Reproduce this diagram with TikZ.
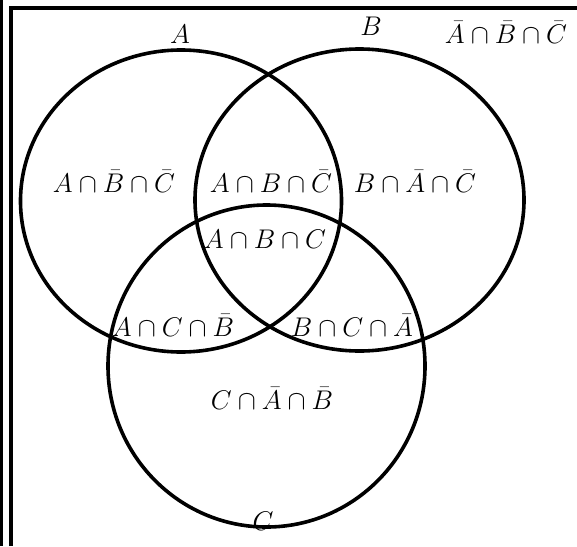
\documentclass[tikz,border=0pt]{standalone}
\usepackage{fix-cm}
\begin{document}
\begin{tikzpicture}[x=1pt,y=-1pt,
  setline/.style={draw, line width=3.6pt},
  lbl/.style={anchor=base, inner sep=0pt, font=\fontsize{27}{31}\selectfont},
  framethick/.style={line width=4pt, line join=miter},
  framethin/.style={line width=2.7pt}]
\useasboundingbox (0,0) rectangle (577,546);
% frame
\coordinate (f0) at (1.3,0);
\coordinate (f1) at (1.3,546);
\coordinate (g0) at (11,546);
\coordinate (g1) at (11,8);
\coordinate (g2) at (577,8);
\draw[framethin] (f0) -- (f1);
\draw[framethick] (g0) -- (g1) -- (g2);
% sets
\coordinate (A) at (181,201);
\coordinate (B) at (359.5,200);
\coordinate (C) at (266.5,366);
\draw[setline] (A) ellipse [x radius=160.5pt, y radius=151pt];
\draw[setline] (B) ellipse [x radius=164.5pt, y radius=151pt];
\draw[setline] (C) ellipse [x radius=158.5pt, y radius=161pt];
% labels
\node[lbl] (lA) at (180,43) {$A$};
\node[lbl] (lB) at (371,35) {$B$};
\node[lbl] (lN) at (506,43) {$\bar{A}\cap\bar{B}\cap\bar{C}$};
\node[lbl] (l1) at (114,192) {$A\cap\bar{B}\cap\bar{C}$};
\node[lbl] (l2) at (271,192) {$A\cap B\cap\bar{C}$};
\node[lbl] (l3) at (415,192) {$B\cap\bar{A}\cap\bar{C}$};
\node[lbl] (l4) at (265,248) {$A\cap B\cap C$};
\node[lbl] (l5) at (173,336) {$A\cap C\cap\bar{B}$};
\node[lbl] (l6) at (352,336) {$B\cap C\cap\bar{A}$};
\node[lbl] (l7) at (272,409) {$C\cap\bar{A}\cap\bar{B}$};
\node[lbl] (lC) at (263,530) {$C$};
\end{tikzpicture}
\end{document}
